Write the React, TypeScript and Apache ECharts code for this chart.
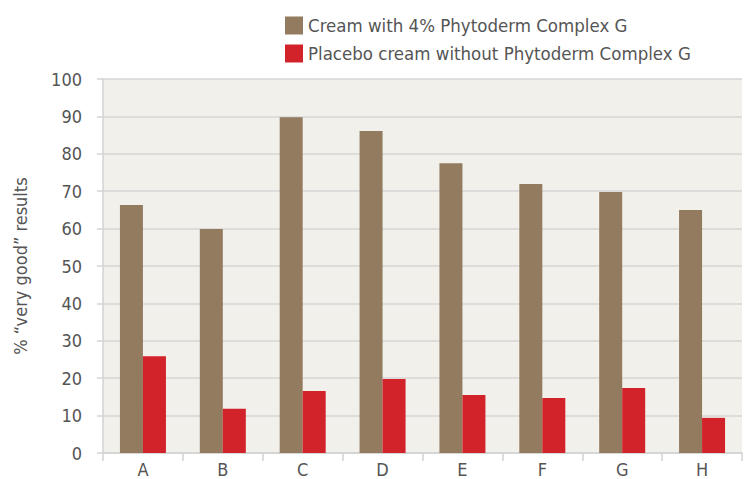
import React, { useEffect, useRef } from "react";
import * as echarts from "echarts";

const categories = ["A", "B", "C", "D", "E", "F", "G", "H"];
const creamValues = [66.3, 59.9, 89.8, 86.1, 77.5, 71.9, 69.8, 65.0];
const placeboValues = [25.9, 11.8, 16.6, 19.8, 15.5, 14.7, 17.4, 9.4];
const seriesNames = [
  "Cream with 4% Phytoderm Complex G",
  "Placebo cream without Phytoderm Complex G",
];
const yAxisTitle = "% \u201cvery good\u201d results";

const FONT = "'DejaVu Sans Condensed', 'Liberation Sans Narrow', sans-serif";

export default function App() {
  const ref = useRef<HTMLDivElement>(null);
  useEffect(() => {
    if (!ref.current) return;
    const chart = echarts.init(ref.current, undefined, { renderer: "svg" });
    chart.setOption({
      animation: false,
      textStyle: { fontFamily: FONT },
      legend: {
        orient: "vertical",
        left: 280,
        top: 11,
        itemWidth: 18,
        itemHeight: 18,
        itemGap: 9,
        icon: "rect",
        textStyle: { fontSize: 18.5, color: "#555", fontFamily: FONT },
        data: seriesNames,
      },
      grid: {
        left: 103,
        right: 5,
        top: 79,
        bottom: 26,
        show: true,
        backgroundColor: "#f1f0eb",
        borderWidth: 0,
      },
      xAxis: {
        type: "category",
        data: categories,
        axisLine: { show: true, lineStyle: { color: "#d3d3d3", width: 1.5 } },
        axisTick: { show: true, length: 8, lineStyle: { color: "#d3d3d3", width: 1.5 } },
        axisLabel: { fontSize: 18, color: "#555", margin: 7, fontFamily: FONT },
      },
      yAxis: {
        type: "value",
        min: 0,
        max: 100,
        interval: 10,
        name: yAxisTitle,
        nameLocation: "middle",
        nameGap: 74,
        nameTextStyle: { fontSize: 18, color: "#555", fontFamily: FONT },
        axisLine: { show: true, lineStyle: { color: "#d3d3d3", width: 1.5 } },
        axisTick: { show: true, length: 6, lineStyle: { color: "#d3d3d3", width: 1.5 } },
        axisLabel: { fontSize: 18, color: "#555", margin: 21, fontFamily: FONT },
        splitLine: { show: true, lineStyle: { color: "#d6d6d6", width: 1.5 } },
      },
      series: [
        {
          name: seriesNames[0],
          type: "bar",
          data: creamValues,
          barWidth: 23,
          barGap: "0%",
          itemStyle: { color: "#937b60" },
        },
        {
          name: seriesNames[1],
          type: "bar",
          data: placeboValues,
          barWidth: 23,
          barGap: "0%",
          itemStyle: { color: "#d2232a" },
        },
      ],
    });
    return () => chart.dispose();
  }, []);
  return (
    <div
      ref={ref}
      style={{ position: "fixed", left: 0, top: 0, width: 747, height: 479, background: "#fff" }}
    />
  );
}
